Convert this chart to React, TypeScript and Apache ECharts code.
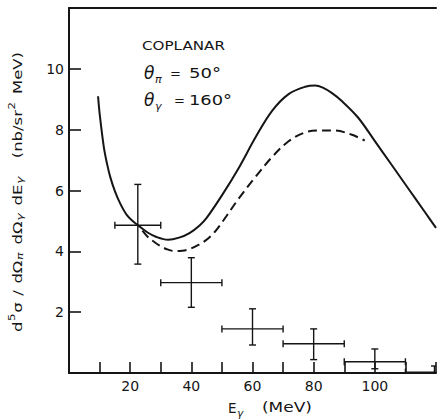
import React, { useEffect, useRef } from 'react';
import * as echarts from 'echarts';

const INK = '#151515';
const FONT = '"DejaVu Sans", "Liberation Sans", sans-serif';

// Theory curve (solid): E_gamma (MeV) vs d5sigma (nb/sr^2 MeV)
const solidE = [9.5, 10.1, 11.4, 12.5, 13.5, 15, 16.8, 19, 21, 22.9, 25.7, 28.6, 32.4, 36, 39.4, 42.7, 45, 50, 55.6, 61, 66.4, 71.8, 77.2, 80.5, 83, 86, 89.1, 94.5, 99.9, 105.3, 110.7, 116.3, 120];
const solidSigma = [9.1, 8.45, 7.42, 6.85, 6.44, 5.98, 5.56, 5.18, 4.98, 4.83, 4.62, 4.47, 4.38, 4.45, 4.6, 4.85, 5.1, 5.84, 6.76, 7.75, 8.62, 9.17, 9.41, 9.45, 9.38, 9.2, 8.95, 8.4, 7.64, 6.87, 6.1, 5.3, 4.77];

// Theory curve (dashed)
const dashedE = [24, 26, 28, 30, 32, 34.5, 37, 39.3, 42.5, 44.7, 47.5, 50.1, 55.6, 61, 66.4, 71.8, 77.2, 81.5, 86.9, 92.3, 96.7];
const dashedSigma = [4.68, 4.45, 4.3, 4.17, 4.07, 4.01, 4.02, 4.07, 4.22, 4.36, 4.62, 4.96, 5.75, 6.45, 7.1, 7.62, 7.91, 7.97, 7.97, 7.84, 7.64];

// Measured points with bins and errors
const binCenter = [22.5, 40, 60, 80, 100, 119.5];
const binLow = [15, 30, 50, 70, 90, 110];
const binHigh = [30, 50, 70, 90, 110, 130];
const sigma = [4.86, 2.97, 1.45, 0.96, 0.37, 0.03];
const sigmaLow = [3.58, 2.16, 0.92, 0.44, 0.14, 0];
const sigmaHigh = [6.2, 3.79, 2.11, 1.45, 0.79, 0.23];

const xTickLabels = [20, 40, 60, 80, 100];
const yTickLabels = [2, 4, 6, 8, 10];

let measureCtx: CanvasRenderingContext2D | null = null;
function measure(text: string, size: number, italic = false): number {
  if (!measureCtx) measureCtx = document.createElement('canvas').getContext('2d');
  if (!measureCtx) return text.length * size * 0.6;
  measureCtx.font = `${italic ? 'italic ' : ''}${size}px ${FONT}`;
  return measureCtx.measureText(text).width;
}

function txt(x: number, y: number, text: string, size: number, opts: { italic?: boolean; sx?: number; align?: string } = {}) {
  return {
    type: 'text',
    x,
    y,
    scaleX: opts.sx ?? 1,
    silent: true,
    style: {
      text,
      fontSize: size,
      fontFamily: FONT,
      fontStyle: opts.italic ? 'italic' : 'normal',
      fill: INK,
      textAlign: opts.align ?? 'left',
      textVerticalAlign: 'middle',
      align: opts.align ?? 'left',
      verticalAlign: 'middle',
    },
  };
}

function fit(text: string, size: number, width: number, italic = false) {
  return width / measure(text, size, italic);
}

type Seg = { t: string; size: number; dy?: number; italic?: boolean; gap?: number };
function runGroup(segs: Seg[], cx: number, cy: number, length: number, rotation: number) {
  let x = 0;
  const items: any[] = [];
  segs.forEach((s) => {
    x += s.gap ?? 0;
    items.push({ s, x });
    x += measure(s.t, s.size, s.italic);
  });
  const total = x;
  const children = items.map(({ s, x: px }) => txt(px - total / 2, s.dy ?? 0, s.t, s.size, { italic: s.italic }));
  return {
    type: 'group',
    x: cx,
    y: cy,
    rotation,
    scaleX: length / total,
    silent: true,
    children,
  };
}

export default function App() {
  const ref = useRef<HTMLDivElement>(null);
  useEffect(() => {
    if (!ref.current) return;
    const chart = echarts.init(ref.current, null, { renderer: 'svg' });

    const errData = binCenter.map((x, i) => [x, sigma[i], binLow[i], binHigh[i], sigmaLow[i], sigmaHigh[i]]);

    const renderItem = (params: any, api: any) => {
      const xc = api.value(0);
      const y = api.value(1);
      const pL = api.coord([api.value(2), y]);
      const pR = api.coord([api.value(3), y]);
      const pB = api.coord([xc, api.value(4)]);
      const pT = api.coord([xc, api.value(5)]);
      const c = 3.5;
      const st = { stroke: INK, lineWidth: 1.4, fill: null };
      const ln = (x1: number, y1: number, x2: number, y2: number) => ({ type: 'line', shape: { x1, y1, x2, y2 }, style: st });
      return {
        type: 'group',
        children: [
          ln(pL[0], pL[1], pR[0], pR[1]),
          ln(pL[0], pL[1] - c, pL[0], pL[1] + c),
          ln(pR[0], pR[1] - c, pR[0], pR[1] + c),
          ln(pB[0], pB[1], pT[0], pT[1]),
          ln(pB[0] - c, pB[1], pB[0] + c, pB[1]),
          ln(pT[0] - c, pT[1], pT[0] + c, pT[1]),
        ],
      };
    };

    const axisLine = { show: true, onZero: false, lineStyle: { color: INK, width: 2 } };

    const ySegs: Seg[] = [
      { t: 'd', size: 12.5 },
      { t: '5', size: 9, dy: -5.5, gap: 0.5 },
      { t: 'σ', size: 12.5, gap: 0.5 },
      { t: '/', size: 12.5, gap: 5 },
      { t: 'dΩ', size: 12.5, gap: 5 },
      { t: 'π', size: 9.5, dy: 3.5, italic: true, gap: 0.5 },
      { t: 'dΩ', size: 12.5, gap: 6 },
      { t: 'γ', size: 9.5, dy: 3.5, italic: true, gap: 0.5 },
      { t: 'dE', size: 12.5, gap: 6 },
      { t: 'γ', size: 9.5, dy: 3.5, italic: true, gap: 0.5 },
      { t: '(nb/sr', size: 12.5, gap: 14 },
      { t: '2', size: 9, dy: -5.5, gap: 0.5 },
      { t: 'MeV)', size: 12.5, gap: 6 },
    ];

    const thetaW = measure('θ', 17, true);
    const eW = measure('E', 13.5);

    const graphic = [
      txt(142, 45, 'COPLANAR', 12.5, { sx: fit('COPLANAR', 12.5, 83) }),
      txt(144, 73, 'θ', 17, { italic: true }),
      txt(144 + thetaW + 0.5, 79, 'π', 11, { italic: true }),
      txt(170, 73, '=', 13),
      txt(189, 73, '50°', 14, { sx: fit('50°', 14, 32) }),
      txt(144, 100, 'θ', 17, { italic: true }),
      txt(144 + thetaW + 0.5, 106, 'γ', 11, { italic: true }),
      txt(174, 100, '=', 13),
      txt(189, 100, '160°', 14, { sx: fit('160°', 14, 43) }),
      txt(228, 408, 'E', 13.5),
      txt(228 + eW + 0.5, 413, 'γ', 10.5, { italic: true }),
      txt(262, 408, '(MeV)', 13.5, { sx: fit('(MeV)', 13.5, 50) }),
      runGroup(ySegs, 17, 192, 280, Math.PI / 2),
    ];

    chart.setOption({
      animation: false,
      backgroundColor: '#ffffff',
      grid: { left: 69, right: 0, top: 8, bottom: 46, containLabel: false },
      xAxis: [
        {
          type: 'value',
          min: 0,
          max: 120,
          interval: 10,
          position: 'bottom',
          axisLine,
          axisTick: { show: true, inside: true, length: 11, lineStyle: { color: INK, width: 1.6 } },
          axisLabel: {
            show: true,
            margin: 6,
            color: INK,
            fontSize: 14,
            fontFamily: FONT,
            formatter: (v: number) => (xTickLabels.includes(v) ? String(v) : ''),
          },
          splitLine: { show: false },
        },
        {
          type: 'value',
          min: 0,
          max: 120,
          position: 'top',
          axisLine,
          axisTick: { show: false },
          axisLabel: { show: false },
          splitLine: { show: false },
        },
      ],
      yAxis: {
        type: 'value',
        min: 0,
        max: 12,
        interval: 2,
        axisLine,
        axisTick: { show: true, inside: true, length: 12, lineStyle: { color: INK, width: 1.6 } },
        axisLabel: {
          show: true,
          margin: 5,
          color: INK,
          fontSize: 14,
          fontFamily: FONT,
          formatter: (v: number) => (yTickLabels.includes(v) ? String(v) : ''),
        },
        splitLine: { show: false },
      },
      graphic,
      series: [
        {
          type: 'line',
          name: 'solid',
          data: solidE.map((x, i) => [x, solidSigma[i]]),
          smooth: 0.35,
          showSymbol: false,
          symbol: 'none',
          lineStyle: { color: INK, width: 2, type: 'solid' },
          clip: true,
          silent: true,
        },
        {
          type: 'line',
          name: 'dashed',
          data: dashedE.map((x, i) => [x, dashedSigma[i]]),
          smooth: 0.35,
          showSymbol: false,
          symbol: 'none',
          lineStyle: { color: INK, width: 2, type: [9, 5] },
          clip: true,
          silent: true,
        },
        {
          type: 'custom',
          name: 'data',
          data: errData,
          encode: { x: 0, y: 1 },
          renderItem,
          clip: true,
          silent: true,
        },
      ],
    });

    return () => chart.dispose();
  }, []);

  return (
    <div
      ref={ref}
      style={{ position: 'fixed', left: 0, top: 0, width: 439, height: 419, background: '#fff' }}
    />
  );
}
